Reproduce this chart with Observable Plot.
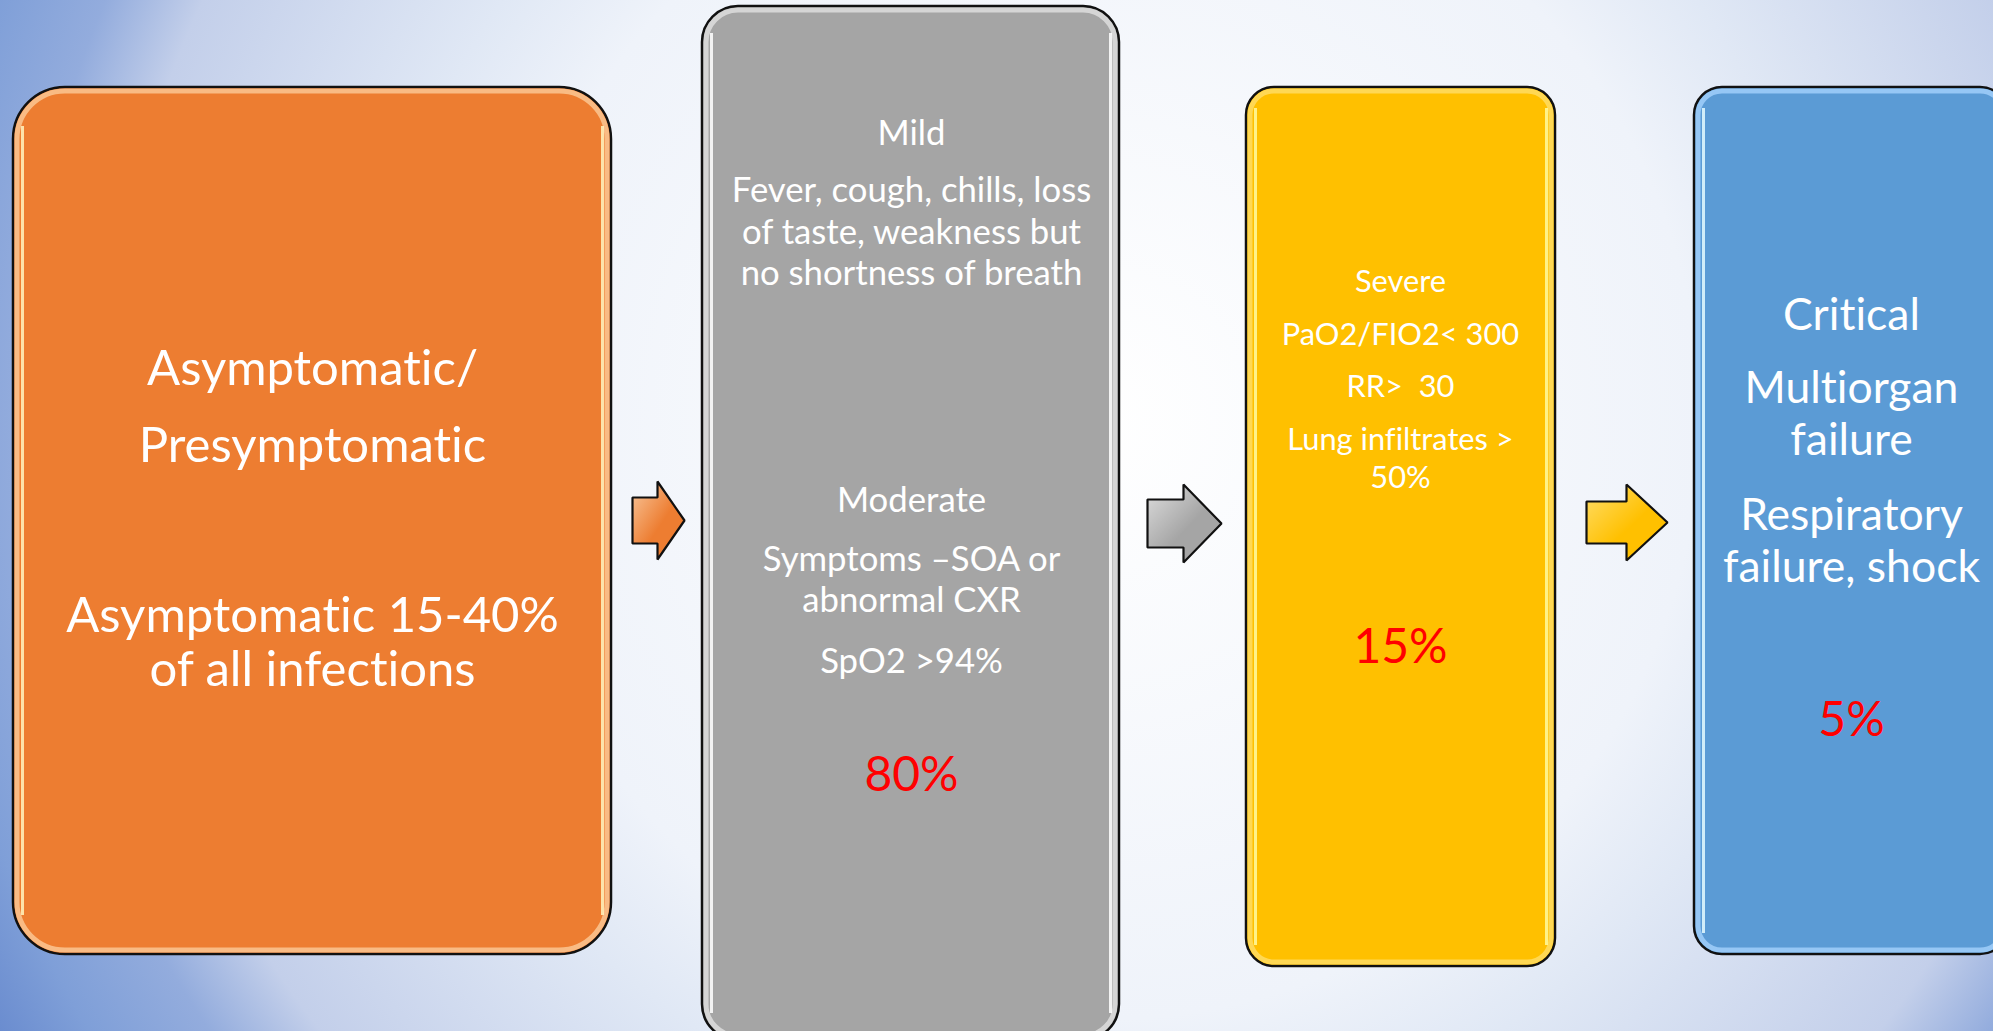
<!DOCTYPE html>
<html>
<head>
<meta charset="utf-8">
<script src="https://cdn.jsdelivr.net/npm/d3@7"></script>
<script src="https://cdn.jsdelivr.net/npm/@observablehq/plot@0.6"></script>
<style>
  html, body { margin: 0; padding: 0; overflow: hidden; width: 1993px; height: 1031px; }
  body {
    background: radial-gradient(circle 1260px at 1100px 420px,
      #ffffff 0%, #eff3fa 47.6%, #e0e8f5 57.9%, #c3cfea 78.6%, #93acdd 85.7%, #7f9fd8 93.7%, #6a8ccf 100%);
  }
  svg text { white-space: pre; font-variant-ligatures: none; font-feature-settings: "liga" 0, "clig" 0; }
</style>
</head>
<body>
<div id="chart"></div>
<script>
// ---- Content -------------------------------------------------------------
const stages = ["Asymptomatic", "Mild / Moderate", "Severe", "Critical"];
const boxColors = ["#ed7d31", "#a5a5a5", "#ffc000", "#5b9bd5"];
const shares = [null, "80%", "15%", "5%"];
const stageLines = [
  ["Asymptomatic/", "Presymptomatic", "Asymptomatic 15-40%", "of all infections"],
  ["Mild", "Fever, cough, chills, loss", "of taste, weakness but", "no shortness of breath",
   "Moderate", "Symptoms \u2013SOA or", "abnormal CXR", "SpO2 >94%"],
  ["Severe", "PaO2/FIO2< 300", "RR>  30", "Lung infiltrates >", "50%"],
  ["Critical", "Multiorgan", "failure", "Respiratory", "failure, shock"]
];

// ---- Layout (pixels) -----------------------------------------------------
const W = 1993, H = 1031;
const boxLayout = [
  {x1: 13,   x2: 611,  y1: 87, y2: 954,  r: 52, glow: "#fcd0a0", shine: "#fff4c0"},
  {x1: 702,  x2: 1119, y1: 6,  y2: 1040, r: 36, glow: "#e6e6e6", shine: "#ffffff"},
  {x1: 1246, x2: 1555, y1: 87, y2: 966,  r: 28, glow: "#ffe070", shine: "#fffaa0"},
  {x1: 1694, x2: 2008, y1: 87, y2: 954,  r: 28, glow: "#a9d6ff", shine: "#e6fbff"}
];
const textLayout = [
  {cx: 312,  size: 49, ys: [369, 446, 616, 670]},
  {cx: 911,  size: 34.7, ys: [133, 190, 232, 273, 500, 559, 600, 661], shareY: 775},
  {cx: 1400, size: 30.8, ys: [282, 335, 387, 440, 478], shareY: 647},
  {cx: 1851, size: 44.5, ys: [315, 388, 440, 515, 567], shareY: 720}
];
const shareSize = 48;
const arrowLayout = [
  {x0: 632,  xh: 657,  xt: 684,  cy: 520, bh: 23, hh: 39, light: "#f8c89e"},
  {x0: 1147, xh: 1183, xt: 1221, cy: 523, bh: 24, hh: 39, light: "#dedede"},
  {x0: 1586, xh: 1626, xt: 1667, cy: 522, bh: 21, hh: 38, light: "#ffdf6e"}
];
const font = "Lato, 'Open Sans', sans-serif";

// ---- Marks ---------------------------------------------------------------
const boxes = stages.map((s, i) => ({stage: s, color: boxColors[i], ...boxLayout[i]}));

const marks = [];
boxes.forEach((b) => {
  marks.push(Plot.rect([b], {
    x1: "x1", x2: "x2", y1: "y1", y2: "y2", rx: b.r,
    fill: "color", stroke: "#111", strokeWidth: 2.5
  }));
  // soft tinted rim just inside the border
  marks.push(Plot.rect([b], {
    x1: d => d.x1 + 4, x2: d => d.x2 - 4, y1: d => d.y1 + 4, y2: d => d.y2 - 4, rx: b.r - 4,
    fill: "none", stroke: b.glow, strokeWidth: 5, strokeOpacity: 0.75, ariaLabel: "rim"
  }));
  // glossy highlights down both sides
  marks.push(Plot.ruleX([b.x1 + 9, b.x2 - 9], {
    x: d => d, y1: () => b.y1 + b.r * 0.75, y2: () => b.y2 - b.r * 0.75,
    stroke: b.shine, strokeWidth: 3, strokeOpacity: 0.85, ariaLabel: "shine"
  }));
});

arrowLayout.forEach((a, i) => {
  const pts = [
    [a.x0, a.cy - a.bh], [a.xh, a.cy - a.bh], [a.xh, a.cy - a.hh], [a.xt, a.cy],
    [a.xh, a.cy + a.hh], [a.xh, a.cy + a.bh], [a.x0, a.cy + a.bh]
  ];
  marks.push(Plot.line(pts, {
    x: d => d[0], y: d => d[1], curve: "linear-closed",
    fill: `url(#arrow${i})`, stroke: "#111", strokeWidth: 2.2, strokeLinejoin: "miter"
  }));
  // inner bevel
  const k = 5;
  const inner = [
    [a.x0 + k, a.cy - a.bh + k], [a.xh + k * 0.6, a.cy - a.bh + k], [a.xh + k * 0.6, a.cy - a.hh + k * 2.2],
    [a.xt - k * 1.6, a.cy], [a.xh + k * 0.6, a.cy + a.hh - k * 2.2], [a.xh + k * 0.6, a.cy + a.bh - k],
    [a.x0 + k, a.cy + a.bh - k]
  ];
  marks.push(Plot.line(inner, {
    x: d => d[0], y: d => d[1], curve: "linear-closed",
    fill: "none", stroke: "#ffffff", strokeWidth: 1.2, strokeOpacity: 0.45, ariaLabel: "bevel"
  }));
});

stageLines.forEach((lines, i) => {
  const t = textLayout[i];
  const rows = lines.map((text, j) => ({text, x: t.cx, y: t.ys[j]}));
  marks.push(Plot.text(rows, {
    x: "x", y: "y", text: "text", fill: "#ffffff",
    fontSize: t.size, fontFamily: font
  }));
  if (shares[i]) {
    marks.push(Plot.text([{text: shares[i], x: t.cx, y: t.shareY}], {
      x: "x", y: "y", text: "text", fill: "#ff0000",
      fontSize: shareSize, fontFamily: font
    }));
  }
});

const chart = Plot.plot({
  width: W, height: H, margin: 0,
  x: {domain: [0, W], range: [0, W], axis: null},
  y: {domain: [0, H], range: [0, H], axis: null},
  style: {background: "transparent", overflow: "hidden"},
  marks
});

// gradients and soft-edge filter
const svg = d3.select(chart);
const defs = svg.insert("defs", ":first-child");
defs.append("filter").attr("id", "soft").attr("x", "-5%").attr("y", "-5%").attr("width", "110%").attr("height", "110%")
  .append("feGaussianBlur").attr("stdDeviation", 1.6);
arrowLayout.forEach((a, i) => {
  const g = defs.append("linearGradient").attr("id", `arrow${i}`)
    .attr("x1", "0").attr("y1", "0").attr("x2", "1").attr("y2", "1");
  g.append("stop").attr("offset", "0%").attr("stop-color", a.light);
  g.append("stop").attr("offset", "55%").attr("stop-color", boxColors[i]);
  g.append("stop").attr("offset", "100%").attr("stop-color", boxColors[i]);
});
svg.selectAll('g[aria-label="rim"], g[aria-label="shine"], g[aria-label="bevel"]').attr("filter", "url(#soft)");

document.getElementById("chart").appendChild(chart);
</script>
</body>
</html>
